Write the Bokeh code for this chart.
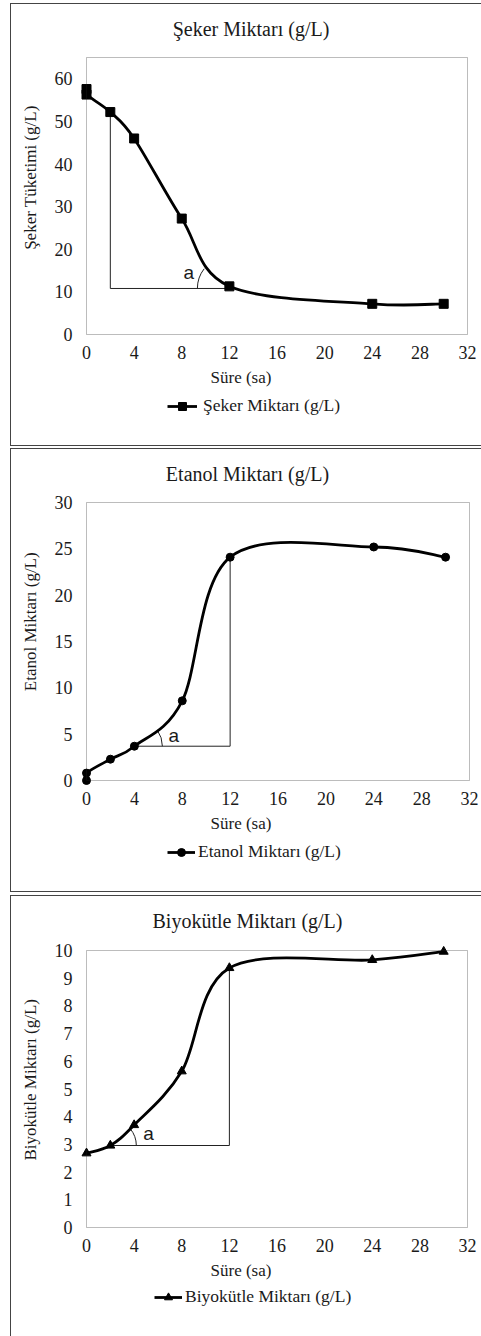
import math
import numpy as np
from bokeh.plotting import figure
from bokeh.layouts import column
from bokeh.models import (Range1d, Legend, LegendItem, Label, BoxAnnotation,
                          FixedTicker, InlineStyleSheet)
from bokeh.embed import file_html
from bokeh.resources import INLINE

# ---------------- data ----------------
x_ticks = [0, 4, 8, 12, 16, 20, 24, 28, 32]
x_limits = [0, 32]

sugar_x = [0, 0, 2, 4, 8, 12, 24, 30]
sugar_y = [57.6, 56.3, 52.2, 46.0, 27.2, 11.3, 7.2, 7.2]
sugar_guide_x = [2, 2, 12]
sugar_guide_y = [52.2, 10.8, 10.8]
sugar_ticks = [0, 10, 20, 30, 40, 50, 60]
sugar_limits = [0, 65]

ethanol_x = [0, 0, 2, 4, 8, 12, 24, 30]
ethanol_y = [0.0, 0.8, 2.3, 3.7, 8.6, 24.1, 25.2, 24.1]
ethanol_guide_x = [4, 12, 12]
ethanol_guide_y = [3.7, 3.7, 24.1]
ethanol_ticks = [0, 5, 10, 15, 20, 25, 30]
ethanol_limits = [0, 30]

biomass_x = [0, 2, 4, 8, 12, 24, 30]
biomass_y = [2.68, 2.96, 3.7, 5.64, 9.37, 9.66, 9.96]
biomass_guide_x = [2, 12, 12]
biomass_guide_y = [2.96, 2.96, 9.37]
biomass_ticks = [0, 1, 2, 3, 4, 5, 6, 7, 8, 9, 10]
biomass_limits = [0, 10]

titles = ["Şeker Miktarı  (g/L)", "Etanol  Miktarı  (g/L)", "Biyokütle  Miktarı  (g/L)"]
y_labels = ["Şeker Tüketimi  (g/L)", "Etanol  Miktarı  (g/L)", "Biyokütle  Miktarı  (g/L)"]
legend_labels = ["Şeker Miktarı (g/L)", "Etanol Miktarı (g/L)", "Biyokütle Miktarı (g/L)"]
x_label = "Süre (sa)"

SERIF = "Liberation Serif"
SANS = "Liberation Sans"
INK = "#1a1a1a"
W = 481


def bezier_segments(xs, ys, t=1.0 / 6.0):
    pts = np.column_stack([xs, ys]).astype(float)
    n = len(pts)
    seg = {k: [] for k in ("x0", "y0", "x1", "y1", "cx0", "cy0", "cx1", "cy1")}
    for i in range(n - 1):
        pm = pts[i - 1] if i > 0 else pts[i]
        p0, p1 = pts[i], pts[i + 1]
        pp = pts[i + 2] if i + 2 < n else pts[i + 1]
        c0 = p0 + (p1 - pm) * t
        c1 = p1 - (pp - p0) * t
        seg["x0"].append(p0[0]); seg["y0"].append(p0[1])
        seg["x1"].append(p1[0]); seg["y1"].append(p1[1])
        seg["cx0"].append(c0[0]); seg["cy0"].append(c0[1])
        seg["cx1"].append(c1[0]); seg["cy1"].append(c1[1])
    return seg


def frame_css(top, bottom):
    bb = "none" if bottom is None else "1px solid #444"
    bpos = "0px" if bottom is None else f"{bottom}px"
    return (":host { position: relative; }\n"
            ":host::after { content: ''; position: absolute; left: 10px; "
            f"top: {top}px; right: 0px; bottom: {bpos}; "
            "border-left: 1px solid #444; border-top: 1px solid #444; "
            f"border-bottom: {bb}; border-right: none; pointer-events: none; }}")


def panel(H, area, ylim, yticks, xs, ys, gx, gy, marker, msize, title, title_pos,
          ylab, ylab_y, leglab, leg_pos, glyph_w, leg_stand, arc, a_pos, css):
    # area = plot-area pixel box (left, right, top, bottom) within the canvas
    L, R, T, B = area
    xs_per_px = (x_limits[1] - x_limits[0]) / (R - L)
    ys_per_px = (ylim[1] - ylim[0]) / (B - T)
    xr = Range1d(x_limits[0] - L * xs_per_px, x_limits[1] + (W - R) * xs_per_px)
    yr = Range1d(ylim[0] - (H - B) * ys_per_px, ylim[1] + T * ys_per_px)

    p = figure(width=W, height=H, output_backend="svg", toolbar_location=None,
               x_range=xr, y_range=yr, min_border=0, title=None)
    p.background_fill_color = "white"
    p.border_fill_color = "white"
    p.grid.visible = False
    p.outline_line_color = None
    p.stylesheets = [InlineStyleSheet(css=css)]

    for ax in (p.xaxis[0], p.yaxis[0]):
        ax.fixed_location = 0
        ax.axis_line_color = None
        ax.major_tick_line_color = None
        ax.minor_tick_line_color = None
        ax.major_tick_out = 0
        ax.major_tick_in = 0
        ax.major_label_text_font = SERIF
        ax.major_label_text_font_size = "18px"
        ax.major_label_text_color = INK
    p.xaxis.ticker = FixedTicker(ticks=x_ticks)
    p.yaxis.ticker = FixedTicker(ticks=yticks)
    p.xaxis.major_label_standoff = 11
    p.yaxis.major_label_standoff = 14
    p.xaxis.axis_label = x_label
    p.xaxis.axis_label_text_font = SERIF
    p.xaxis.axis_label_text_font_size = "17px"
    p.xaxis.axis_label_text_font_style = "normal"
    p.xaxis.axis_label_text_color = INK
    p.xaxis.axis_label_standoff = 6

    # plot-area border
    p.add_layout(BoxAnnotation(left=x_limits[0], right=x_limits[1],
                               bottom=ylim[0], top=ylim[1], fill_alpha=0,
                               line_color="#222222", line_width=1))

    # guide lines
    p.line(gx, gy, line_color="#222222", line_width=1)
    cx, cy, r, a0, a1 = arc
    p.arc(x=[cx], y=[cy], radius=r, radius_units="screen",
          start_angle=math.radians(a0), end_angle=math.radians(a1),
          line_color="#222222", line_width=1)
    p.add_layout(Label(x=a_pos[0], y=a_pos[1], text="a", text_font=SANS,
                       text_font_size="19px", text_color=INK,
                       text_align="center", text_baseline="middle"))

    seg = bezier_segments(xs, ys)
    curve = p.bezier(line_color="black", line_width=2.8, **seg)
    pts = p.scatter(xs, ys, marker=marker, size=msize, fill_color="black",
                    line_color="black")

    # chart title and y caption (screen units measured from bottom-left)
    p.add_layout(Label(x=title_pos[0], y=H - title_pos[1], x_units="screen",
                       y_units="screen", text=title, text_font=SERIF,
                       text_font_size="20px", text_color=INK,
                       text_align="center", text_baseline="middle"))
    p.add_layout(Label(x=30, y=H - ylab_y, x_units="screen", y_units="screen",
                       text=ylab, angle=math.pi / 2, text_font=SERIF,
                       text_font_size="17px", text_color=INK,
                       text_align="center", text_baseline="middle"))

    legend = Legend(items=[LegendItem(label=leglab, renderers=[curve, pts])],
                    location=(leg_pos[0], H - leg_pos[1] - 10), padding=0,
                    margin=0, spacing=0, glyph_width=glyph_w, glyph_height=20,
                    label_height=20, label_standoff=leg_stand,
                    border_line_color=None, background_fill_alpha=0,
                    label_text_font=SERIF, label_text_font_size="17.5px",
                    label_text_color=INK)
    p.add_layout(legend)
    return p


p1 = panel(446, (86, 467, 57, 334), sugar_limits, sugar_ticks, sugar_x, sugar_y,
           sugar_guide_x, sugar_guide_y, "square", 9, titles[0], (253, 28),
           y_labels[0], 175, legend_labels[0], (167, 406), 30, 6,
           (12, 10.8, 32, 142, 180), (8.6, 14.6), frame_css(3, 0))
p2 = panel(447, (86, 469, 56, 334), ethanol_limits, ethanol_ticks, ethanol_x,
           ethanol_y, ethanol_guide_x, ethanol_guide_y, "circle", 8, titles[1],
           (252, 27), y_labels[1], 171, legend_labels[1], (167, 406), 28, 3,
           (4, 3.7, 28, 0, 35), (7.3, 4.85), frame_css(2, 1))
p3 = panel(443, (86, 467, 57, 334), biomass_limits, biomass_ticks, biomass_x,
           biomass_y, biomass_guide_x, biomass_guide_y, "triangle", 9, titles[2],
           (252, 27), y_labels[2], 182, legend_labels[2], (154, 404), 28, 3,
           (2, 2.96, 26, 0, 40), (5.2, 3.39), frame_css(2, None))

layout = column(p1, p2, p3, spacing=0)
open("out.html", "w").write(file_html(layout, INLINE))
